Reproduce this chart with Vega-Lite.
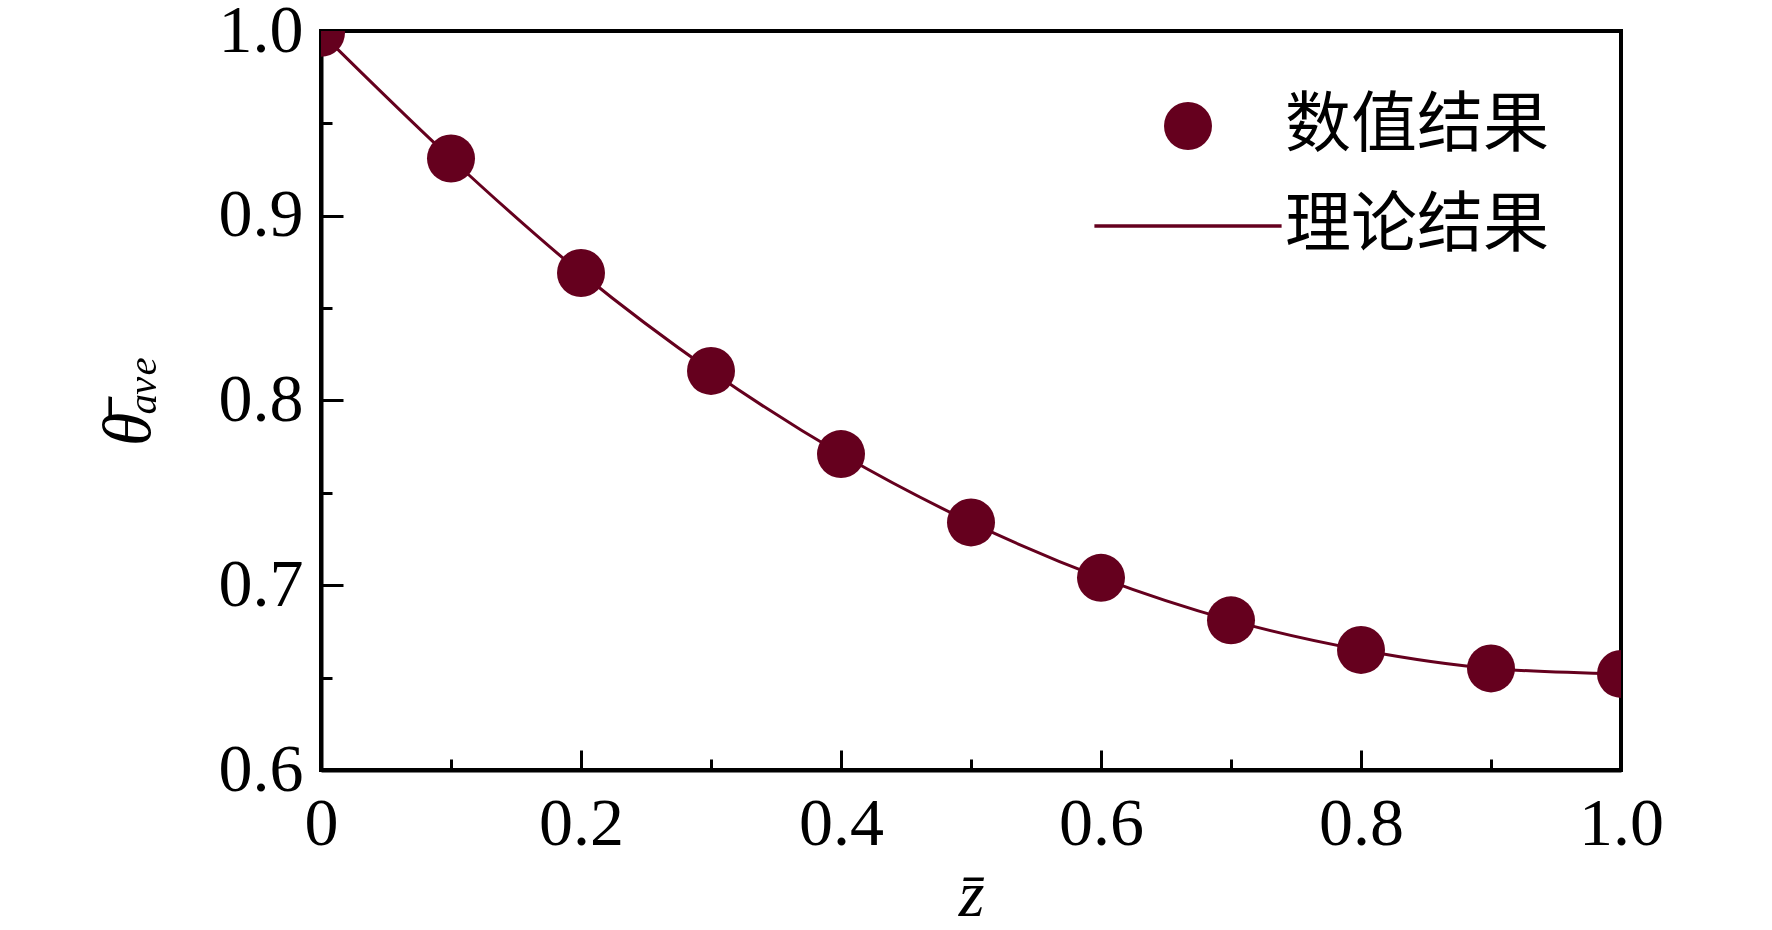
{
  "$schema": "https://vega.github.io/schema/vega-lite/v6.json",
  "width": 1300,
  "height": 739,
  "autosize": "none",
  "padding": {"left": 321, "top": 31, "right": 151, "bottom": 160},
  "background": "white",
  "data": {
    "values": [
      {"z": 0.0, "theta": 0.999, "kind": "数值结果"},
      {"z": 0.1, "theta": 0.931, "kind": "数值结果"},
      {"z": 0.2, "theta": 0.869, "kind": "数值结果"},
      {"z": 0.3, "theta": 0.816, "kind": "数值结果"},
      {"z": 0.4, "theta": 0.771, "kind": "数值结果"},
      {"z": 0.5, "theta": 0.734, "kind": "数值结果"},
      {"z": 0.6, "theta": 0.704, "kind": "数值结果"},
      {"z": 0.7, "theta": 0.681, "kind": "数值结果"},
      {"z": 0.8, "theta": 0.665, "kind": "数值结果"},
      {"z": 0.9, "theta": 0.655, "kind": "数值结果"},
      {"z": 1.0, "theta": 0.652, "kind": "数值结果"}
    ]
  },
  "encoding": {
    "x": {
      "field": "z",
      "type": "quantitative",
      "scale": {"domain": [0, 1], "nice": false, "zero": false},
      "axis": {
        "title": "z̄",
        "titleFont": "Liberation Serif",
        "titleFontStyle": "italic",
        "titleFontWeight": "normal",
        "titleFontSize": 66,
        "titleColor": "black",
        "titlePadding": -4,
        "values": [0, 0.1, 0.2, 0.3, 0.4, 0.5, 0.6, 0.7, 0.8, 0.9, 1.0],
        "labelExpr": "datum.value == 0 ? '0' : (round(datum.value * 10) % 2 == 0 ? format(datum.value, '.1f') : '')",
        "labelFont": "Liberation Serif",
        "labelFontSize": 68,
        "labelColor": "black",
        "labelPadding": 40,
        "labelFlush": false,
        "labelOverlap": false,
        "tickSize": {"condition": {"test": "round(datum.value * 10) % 2 == 0", "value": -20}, "value": -11},
        "tickWidth": 3,
        "tickColor": "black",
        "domainColor": "black",
        "domainWidth": 4,
        "grid": false
      }
    },
    "y": {
      "field": "theta",
      "type": "quantitative",
      "scale": {"domain": [0.6, 1.0], "nice": false, "zero": false},
      "axis": {
        "title": "θ̄ₐᵥₑ",
        "titleFont": "Liberation Serif",
        "titleFontStyle": "italic",
        "titleFontWeight": "normal",
        "titleFontSize": 68,
        "titleColor": "black",
        "titlePadding": 55,
        "values": [0.6, 0.65, 0.7, 0.75, 0.8, 0.85, 0.9, 0.95, 1.0],
        "labelExpr": "round(datum.value * 100) % 10 == 0 ? format(datum.value, '.1f') : ''",
        "labelFont": "Liberation Serif",
        "labelFontSize": 68,
        "labelColor": "black",
        "labelPadding": 40,
        "labelFlush": false,
        "labelOverlap": false,
        "tickSize": {"condition": {"test": "round(datum.value * 100) % 10 == 0", "value": -22}, "value": -11},
        "tickWidth": 3,
        "tickColor": "black",
        "domainColor": "black",
        "domainWidth": 4,
        "grid": false
      }
    }
  },
  "layer": [
    {
      "mark": {"type": "line", "color": "#65001e", "strokeWidth": 3, "interpolate": "monotone", "clip": true},
      "encoding": {}
    },
    {
      "mark": {"type": "point", "filled": true, "color": "#65001e", "opacity": 1, "size": 2304, "clip": true},
      "encoding": {
        "shape": {
          "field": "kind",
          "type": "nominal",
          "scale": {
            "domain": ["数值结果", "理论结果"],
            "range": ["circle", "M-3.9,-0.07L3.9,-0.07L3.9,0.07L-3.9,0.07Z"]
          },
          "legend": {
            "title": null,
            "orient": "none",
            "legendX": 834,
            "legendY": 62,
            "padding": 0,
            "symbolSize": 2304,
            "symbolFillColor": "#65001e",
            "symbolStrokeWidth": 0,
            "symbolOpacity": 1,
            "labelFont": "Noto Sans CJK SC",
            "labelFontSize": 66,
            "labelColor": "black",
            "labelOffset": 64,
            "labelLimit": 0,
            "rowPadding": 34
          }
        }
      }
    }
  ],
  "config": {
    "view": {"stroke": "black", "strokeWidth": 4}
  }
}
